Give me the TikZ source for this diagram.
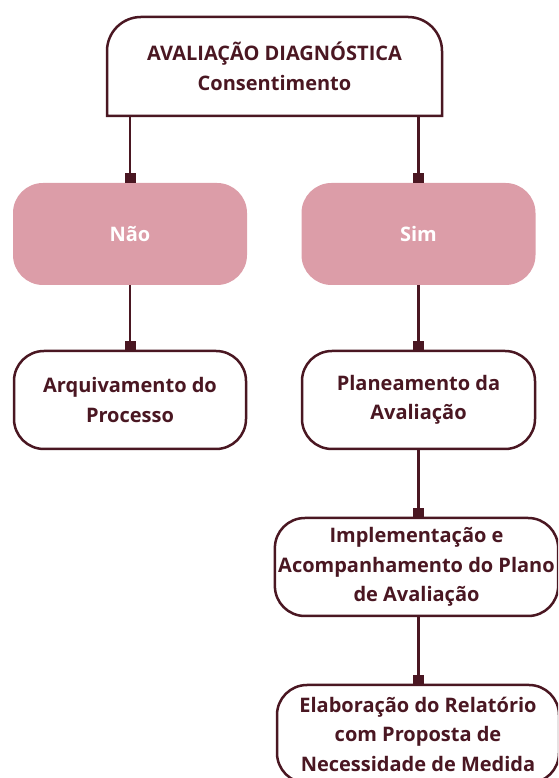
\documentclass[tikz,border=0pt]{standalone}
\usepackage{fontspec}
\setmainfont{Open Sans}
\usetikzlibrary{arrows.meta,positioning,calc}
\definecolor{vinho}{HTML}{4A1722}
\definecolor{rosa}{HTML}{DC9DA8}
\tikzset{
  texto/.style={font=\bfseries\fontsize{20}{29.5}\selectfont, align=center, outer sep=0pt},
  caixa/.style={texto, draw=vinho, line width=2.5pt, rounded corners=30pt, fill=white, text=vinho, minimum height=98pt},
  opcao/.style={texto, fill=rosa, rounded corners=30pt, text=white, minimum height=102pt, minimum width=234pt},
  liga/.style={draw=vinho, line width=2.2pt, -{Square[length=10pt,width=11pt]}},
}

\begin{document}
\begin{tikzpicture}[x=1pt,y=1pt]
    \useasboundingbox (0,0) rectangle (558,778);
    \clip (0,0) rectangle (558,778);
    % topo: so os cantos de cima sao redondos
    \node [texto, text=vinho, minimum width=335pt, minimum height=99pt] (topo) at (274.5,711.5) {AVALIAÇÃO DIAGNÓSTICA\\Consentimento};
    \draw [draw=vinho, line width=2.5pt] (topo.south west) -- ([yshift=-34pt]topo.north west)
      arc [start angle=180, end angle=90, radius=34pt] -- ([xshift=-34pt]topo.north east)
      arc [start angle=90, end angle=0, radius=34pt] -- (topo.south east) -- cycle;

    \node [opcao] (nao) at (130,544) {Não};
    \node [opcao] (sim) at (418.5,544) {Sim};

    \node [caixa, minimum width=232pt] (arquivo) at (130,378) {Arquivamento do\\Processo};
    \node [caixa, minimum width=233pt] (plano) at (418.5,378) {Planeamento da\\Avaliação};
    \node [caixa, minimum width=277pt] (acomp) at (416.5,211) {Implementação e\\Acompanhamento do Plano\\de Avaliação};
    \node [caixa, minimum width=282pt] (relatorio) at (418,44) {Elaboração do Relatório\\com Proposta de\\Necessidade de Medida};

    % ligacoes
    \draw [liga] (topo.south -| nao.north) -- (nao.north);
    \draw [liga] (topo.south -| sim.north) -- (sim.north);
    \draw [liga] (nao) -- (arquivo);
    \draw [liga] (sim) -- (plano);
    \draw [liga] (plano.south) -- (plano.south |- acomp.north);
    \draw [liga] (plano.south |- acomp.south) -- (plano.south |- relatorio.north);
\end{tikzpicture}
\end{document}
